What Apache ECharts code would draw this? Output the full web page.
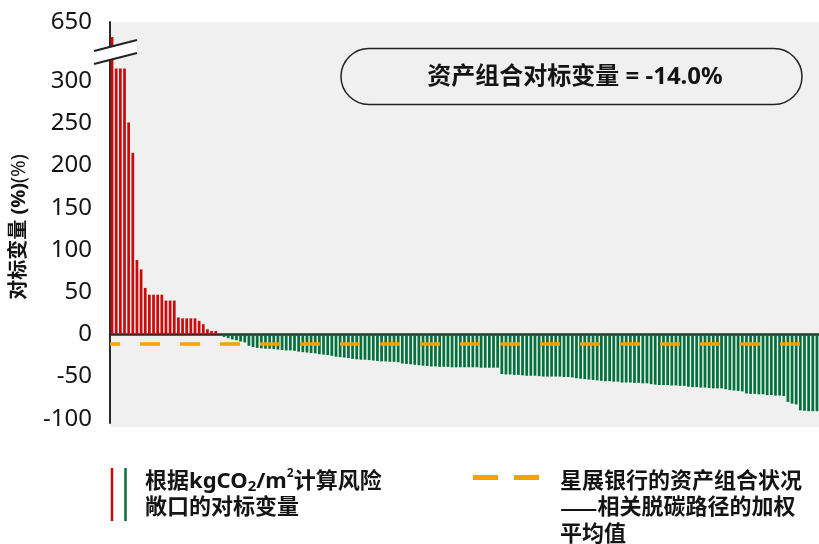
<!DOCTYPE html>
<html>
<head>
<meta charset="utf-8">
<script src="https://cdn.jsdelivr.net/npm/echarts@6.0.0/dist/echarts.min.js"></script>
<style>
html,body{margin:0;padding:0;background:#ffffff;}
#chart{width:819px;height:544px;}
</style>
</head>
<body>
<div id="chart"></div>
<script>
// ---- data ----
// benchmark variance (%) per exposure, sorted descending
const redValues = [533, 315, 315, 315, 251, 215, 88, 77, 55, 47, 47, 47, 47, 40, 40, 40, 20, 19, 19, 19, 19, 16, 12, 6, 4, 4, 0];
const greenValues = [
  -3, -4.5, -6, -7, -8.5, -9.5, -13.5, -15, -16, -16.5,
  -17, -17, -17.5, -18, -18.5, -19, -19, -19.5, -20.5, -21,
  -21.5, -22, -22.5, -23.5, -24, -24.5, -25.5, -26.5, -27, -27.5,
  -28, -29, -29.5, -30, -30, -30.5, -31, -31.5, -32, -32,
  -32.5, -32.5, -33, -34.5, -35, -35.5, -36, -36.5, -37, -37.5,
  -38, -38, -38.5, -38.5, -38.5, -39, -39, -39, -39, -39,
  -39, -39, -39.5, -39.5, -39.5, -39.5, -39.5, -47, -47.5, -47.5,
  -48, -48, -48.5, -49, -49, -49, -49.5, -50, -50, -50,
  -50, -50, -50.5, -50.5, -51, -52, -52.5, -53, -53.5, -54,
  -54.5, -55, -55.5, -55.5, -56, -56, -57, -57, -57, -57.5,
  -57.5, -58, -58, -59, -59.5, -60, -60, -60, -60.5, -60.5,
  -61, -61, -62, -62.5, -62.5, -63, -63, -63.5, -64, -64,
  -64, -65, -66, -66.5, -67, -67.5, -70, -70.5, -70.5, -71,
  -71, -72, -72, -72.5, -72.5, -73, -80, -82, -83, -90,
  -90.5, -91, -91, -91
];
const portfolioAverage = -11.5;      // dashed line (weighted average of pathways)
const portfolioVarianceText = '资产组合对标变量 = -14.0%';
const yTickLabels = [-100, -50, 0, 50, 100, 150, 200, 250, 300];
const yTopLabel = 650;

// ---- broken axis mapping ----
const BREAK_AT = 320;      // linear up to here
const AXIS_TOP = 370;      // display value drawn at top of axis, labelled 650
function toDisplay(v) {
  return v > BREAK_AT ? BREAK_AT + (v - BREAK_AT) * (AXIS_TOP - BREAK_AT) / (yTopLabel - BREAK_AT) : v;
}

const values = redValues.concat(greenValues);
const categories = values.map((v, i) => 'E' + (i + 1));

const RED = '#cc0a0a';
const GREEN = '#00703c';
const ORANGE = '#f7a000';
const FONT = '"Noto Sans", "Noto Sans CJK SC", sans-serif';
const CJK = '"Noto Sans CJK SC", sans-serif';
const TXT = '#141414';

const chart = echarts.init(document.getElementById('chart'), null, {renderer: 'canvas'});

const option = {
  backgroundColor: '#ffffff',
  animation: false,
  grid: {left: 110, right: 0, top: 22, height: 401, containLabel: false},
  xAxis: {
    type: 'category',
    data: categories,
    axisLine: {show: true, onZero: true, lineStyle: {color: '#2a2a2a', width: 2.5}},
    axisTick: {show: false},
    axisLabel: {show: false},
    splitLine: {show: false}
  },
  yAxis: {
    type: 'value',
    min: -105,
    max: AXIS_TOP,
    interval: 5,
    axisLine: {show: true, lineStyle: {color: '#2a2a2a', width: 2}},
    axisTick: {show: false},
    splitLine: {show: false},
    axisLabel: {
      margin: 18,
      color: TXT,
      fontSize: 24,
      fontFamily: FONT,
      formatter: function (v) {
        if (Math.abs(v - AXIS_TOP) < 1e-6) return String(yTopLabel);
        if (yTickLabels.indexOf(v) >= 0) return String(v);
        return '';
      }
    }
  },
  series: [{
    type: 'bar',
    name: '根据kgCO2/m2计算风险敞口的对标变量',
    data: values.map(v => ({
      value: toDisplay(v),
      itemStyle: {color: v >= 0 ? RED : GREEN}
    })),
    barWidth: '66%',
    markLine: {
      silent: true,
      symbol: ['none', 'none'],
      label: {show: false},
      lineStyle: {color: ORANGE, width: 3.5, type: [20, 20], dashOffset: 10},
      data: [{yAxis: portfolioAverage}]
    }
  }],
  graphic: [
    // plot background
    {type: 'rect', z: -10, shape: {x: 110, y: 22, width: 709, height: 405},
     style: {fill: '#f0f0f0'}, silent: true},
    // axis break
    {type: 'polygon', z: 100, shape: {points: [[94, 51], [137, 40], [137, 53], [94, 64]]},
     style: {fill: '#ffffff'}, silent: true},
    {type: 'line', z: 101, shape: {x1: 94, y1: 51, x2: 137, y2: 40},
     style: {stroke: '#222', lineWidth: 2}, silent: true},
    {type: 'line', z: 101, shape: {x1: 94, y1: 64, x2: 137, y2: 53},
     style: {stroke: '#222', lineWidth: 2}, silent: true},
    // annotation pill
    {type: 'rect', z: 50, shape: {x: 341, y: 48.5, width: 461, height: 56, r: 28},
     style: {fill: 'rgba(0,0,0,0)', stroke: '#222', lineWidth: 1.5}, silent: true},
    {type: 'text', z: 51, x: 575, y: 77,
     style: {text: portfolioVarianceText, fill: TXT, font: 'bold 24px ' + FONT,
              textAlign: 'center', textVerticalAlign: 'middle'}, silent: true},
    // y axis title
    {type: 'text', z: 51, x: 19, y: 227, rotation: Math.PI / 2,
     style: {
       text: '{b|对标变量 (%)}{n|(%)}',
       textAlign: 'center', textVerticalAlign: 'middle',
       rich: {
         b: {fontFamily: FONT, fontWeight: 'bold', fontSize: 20, fill: TXT, color: TXT},
         n: {fontFamily: FONT, fontWeight: 'normal', fontSize: 20, fill: TXT, color: TXT}
       }
     }, silent: true},
    // legend 1: red / green bars
    {type: 'line', shape: {x1: 112, y1: 468, x2: 112, y2: 521},
     style: {stroke: RED, lineWidth: 2.5}, silent: true},
    {type: 'line', shape: {x1: 125.5, y1: 468, x2: 125.5, y2: 521},
     style: {stroke: GREEN, lineWidth: 2.5}, silent: true},
    {type: 'text', x: 145, y: 468,
     style: {
       text: '{b|根据kgCO}{sub|2}{b|/m}{sup|2}{b|计算风险}\n{b|敞口的对标变量}',
       textAlign: 'left', textVerticalAlign: 'top',
       rich: {
         b: {fontFamily: FONT, fontWeight: 'bold', fontSize: 22, lineHeight: 26.5, fill: TXT, color: TXT},
         sub: {fontFamily: FONT, fontWeight: 'bold', fontSize: 15, lineHeight: 15, verticalAlign: 'bottom', fill: TXT, color: TXT},
         sup: {fontFamily: FONT, fontWeight: 'bold', fontSize: 12, lineHeight: 18, verticalAlign: 'top', fill: TXT, color: TXT}
       }
     }, silent: true},
    // legend 2: dashed orange line
    {type: 'line', shape: {x1: 473, y1: 477.5, x2: 539, y2: 477.5},
     style: {stroke: ORANGE, lineWidth: 5, lineDash: [25, 16]}, silent: true},
    {type: 'text', x: 560, y: 468,
     style: {
       text: '{b|星展银行的资产组合状况}\n{d|——}{b|相关脱碳路径的加权}\n{b|平均值}',
       textAlign: 'left', textVerticalAlign: 'top',
       rich: {
         b: {fontFamily: FONT, fontWeight: 'bold', fontSize: 22, lineHeight: 26.5, fill: TXT, color: TXT},
         d: {fontFamily: CJK, fontWeight: 'bold', fontSize: 22, lineHeight: 26.5, fill: TXT, color: TXT}
       }
     }, silent: true}
  ]
};
chart.setOption(option);
</script>
</body>
</html>
